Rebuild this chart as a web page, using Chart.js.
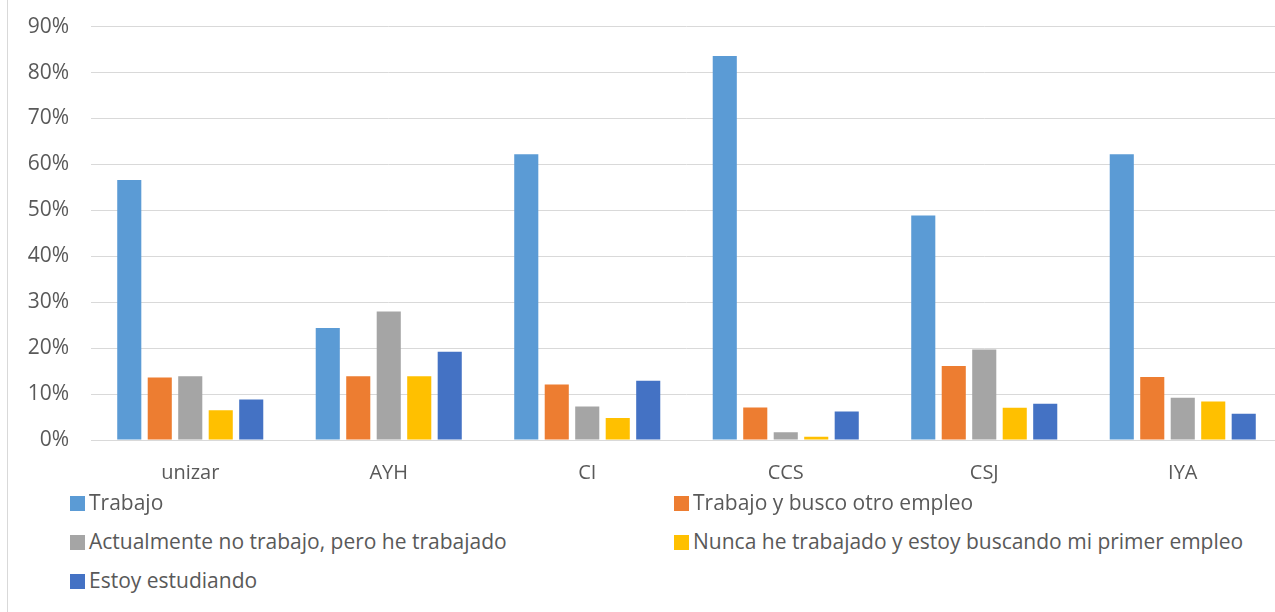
<!DOCTYPE html>
<html lang="es">
<head>
<meta charset="UTF-8">
<title>Situación laboral</title>
<script src="https://cdn.jsdelivr.net/npm/chart.js"></script>
<style>
    body { margin: 0; background: #fff; overflow: hidden; font-family: "Open Sans", sans-serif; }
    #wrap { position: relative; width: 1275px; height: 612px; overflow: hidden; }
    #frame { position: absolute; left: 7px; top: 0; width: 1px; height: 612px; background: #d9d9d9; }
    #chartBox { position: absolute; left: 0; top: -8px; width: 1282px; height: 514px; }
    #legend { position: absolute; left: 0; top: 483px; width: 1275px; }
    .item { position: absolute; height: 39px; line-height: 39px; font-size: 21px; color: #595959; white-space: nowrap; }
    .item span.box { display: inline-block; width: 15px; height: 15px; margin-right: 4px; vertical-align: -1px; }
</style>
</head>
<body>
<div id="wrap">
    <div id="frame"></div>
    <div id="chartBox"><canvas id="situacionChart"></canvas></div>
    <div id="legend"></div>
</div>

<script>
// Categorías (centros)
const centros = ['unizar', 'AYH', 'CI', 'CCS', 'CSJ', 'IYA'];

// Porcentajes, uno por centro
const trabajo      = [56.6, 24.4, 62.2, 83.6, 48.9, 62.2];
const trabajoBusco = [13.6, 13.9, 12.1, 7.1, 16.1, 13.7];
const noTrabajo    = [13.9, 28.0, 7.3, 1.7, 19.7, 9.2];
const nuncaTrabajo = [6.5, 13.9, 4.8, 0.7, 7.0, 8.4];
const estudiando   = [8.8, 19.2, 12.9, 6.2, 7.9, 5.7];

const series = [
    { label: 'Trabajo', data: trabajo, color: '#5B9BD5' },
    { label: 'Trabajo y busco otro empleo', data: trabajoBusco, color: '#ED7D31' },
    { label: 'Actualmente no trabajo, pero he trabajado', data: noTrabajo, color: '#A5A5A5' },
    { label: 'Nunca he trabajado y estoy buscando mi primer empleo', data: nuncaTrabajo, color: '#FFC000' },
    { label: 'Estoy estudiando', data: estudiando, color: '#4472C4' }
];

const ctx = document.getElementById('situacionChart').getContext('2d');
const chart = new Chart(ctx, {
    type: 'bar',
    data: {
        labels: centros,
        datasets: series.map(s => ({
            label: s.label,
            data: s.data,
            backgroundColor: s.color,
            categoryPercentage: 0.768,
            barPercentage: 0.79
        }))
    },
    options: {
        responsive: true,
        maintainAspectRatio: false,
        animation: false,
        layout: { padding: { top: 18, left: 0, right: 0, bottom: 0 } },
        plugins: {
            legend: { display: false },
            title: { display: false },
            tooltip: { enabled: false }
        },
        scales: {
            x: {
                grid: { display: false, drawTicks: false },
                border: { color: '#d9d9d9', width: 1 },
                ticks: {
                    color: '#595959',
                    padding: 21,
                    font: { family: 'Open Sans', size: 20 }
                }
            },
            y: {
                min: 0,
                max: 90,
                afterFit: (scale) => { scale.width = 91; },
                grid: { color: '#d9d9d9', lineWidth: 1, drawTicks: false },
                border: { display: false },
                ticks: {
                    stepSize: 10,
                    color: '#595959',
                    padding: 22,
                    font: { family: 'Open Sans', size: 21 },
                    callback: (v) => v + '%'
                }
            }
        }
    }
});

// Leyenda en dos columnas, como en el original
const legendBox = document.getElementById('legend');
const colLeft = [70, 674];
series.forEach((s, i) => {
    const item = document.createElement('div');
    item.className = 'item';
    item.style.left = colLeft[i % 2] + 'px';
    item.style.top = (Math.floor(i / 2) * 39) + 'px';
    item.innerHTML = '<span class="box" style="background:' + s.color + '"></span>' + s.label;
    legendBox.appendChild(item);
});
</script>
</body>
</html>
